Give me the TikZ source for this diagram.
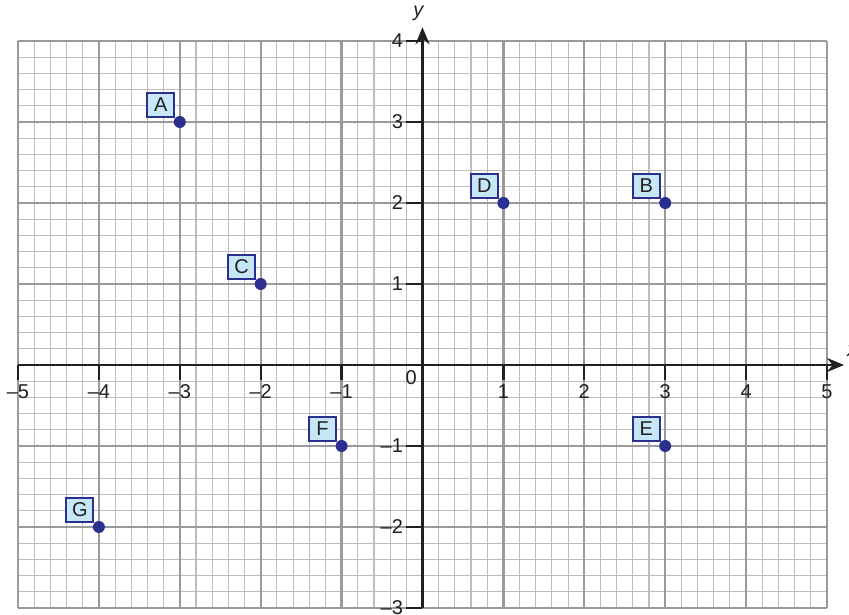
\documentclass[tikz,border=0pt]{standalone}
\usepackage{fontspec}
\setmainfont{Liberation Sans}
\usetikzlibrary{arrows.meta}
\definecolor{navy}{HTML}{2B2F8F}
\definecolor{lightblue}{HTML}{C6E7F7}
\definecolor{gridmajor}{HTML}{9A9A9A}
\definecolor{gridminor}{HTML}{BDBDBD}
\definecolor{axiscol}{HTML}{231F20}
\begin{document}
\begin{tikzpicture}[x=80.9pt,y=81pt,
 minorgrid/.style={draw=gridminor, line width=1.1pt},
 majorgrid/.style={draw=gridmajor, line width=2.2pt},
 axisline/.style={draw=axiscol, line width=2.4pt},
 tickline/.style={draw=axiscol, line width=2.2pt},
 dot/.style={circle, fill=navy, inner sep=0pt, minimum size=12pt},
 lbl/.style={draw=navy, fill=lightblue, line width=2pt, minimum width=27pt, minimum height=24pt, inner sep=0pt, text=axiscol, font=\fontsize{20}{20}\selectfont},
 num/.style={font=\fontsize{20}{20}\selectfont, text=axiscol, inner sep=0pt}]
\useasboundingbox (-5.2225,-3.0864) rectangle (5.2719,4.5062);
\fill[white] (-5.2225,-3.0864) rectangle (5.2719,4.5062);
% grid
\draw[minorgrid] (-5,-3) grid[step=0.2] (5,4);
\draw[majorgrid] (-5,-3) grid[step=1] (5,4);
% axes
\coordinate (xs) at (-5,0);
\coordinate (xe) at (5.21,0);
\coordinate (ys) at (0,-3);
\coordinate (ye) at (0,4.17);
\draw[axisline, -{Stealth[length=17pt,width=14pt]}] (xs) -- (xe);
\draw[axisline, -{Stealth[length=17pt,width=14pt]}] (ys) -- (ye);
% x ticks and labels
\foreach \i/\t in {-5/–5,-4/–4,-3/–3,-2/–2,-1/–1,1/1,2/2,3/3,4/4,5/5}{
  \coordinate (xt\i) at (\i,0);
  \coordinate (xb\i) at (\i,-0.19);
  \draw[tickline] (xt\i) -- (xb\i);
  \node[num] (xl\i) at (\i,-0.33) {\t};
}
% y ticks and labels
\foreach \j/\t in {-3/–3,-2/–2,-1/–1,1/1,2/2,3/3,4/4}{
  \coordinate (yt\j) at (0,\j);
  \coordinate (yb\j) at (-0.2,\j);
  \draw[tickline] (yt\j) -- (yb\j);
  \node[num, anchor=east] (yl\j) at (-0.24,\j) {\t};
}
\node[num] (zero) at (-0.14,-0.16) {0};
\node[num, font=\fontsize{20}{20}\selectfont\itshape] (ylab) at (-0.05,4.34) {y};
\node[num, font=\fontsize{20}{20}\selectfont\itshape] (xlab) at (5.31,0.17) {x};
% points
\foreach \n/\px/\py in {A/-3/3,B/3/2,C/-2/1,D/1/2,E/3/-1,F/-1/-1,G/-4/-2}{
  \node[dot] (p\n) at (\px,\py) {};
  \node[lbl] (l\n) at ([shift={(-0.235,0.21)}]p\n.center) {\n};
}
\end{tikzpicture}
\end{document}
